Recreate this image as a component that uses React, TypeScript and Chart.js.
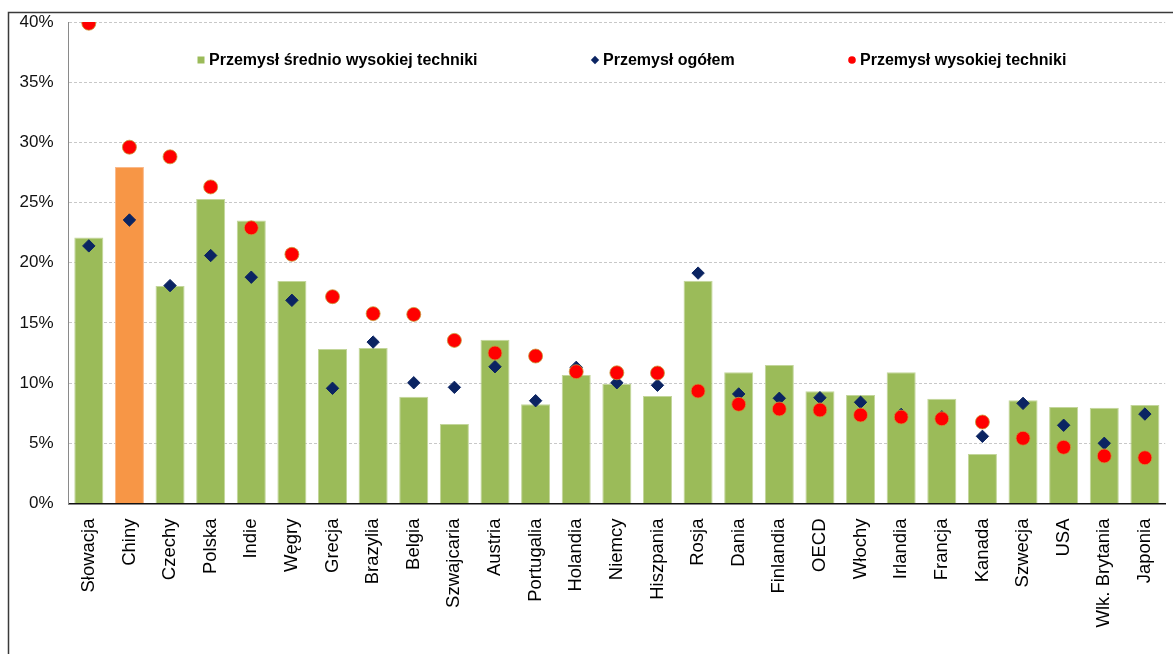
import React, { useEffect, useRef } from "react";
import { Chart, registerables } from "chart.js";

Chart.register(...registerables);

// Kraje / grupy krajów na osi poziomej
const categories = [
  "Słowacja", "Chiny", "Czechy", "Polska", "Indie", "Węgry", "Grecja", "Brazylia",
  "Belgia", "Szwajcaria", "Austria", "Portugalia", "Holandia", "Niemcy", "Hiszpania",
  "Rosja", "Dania", "Finlandia", "OECD", "Włochy", "Irlandia", "Francja", "Kanada",
  "Szwecja", "USA", "Wlk. Brytania", "Japonia",
];

// Przemysł średnio wysokiej techniki (słupki), %
const mediumHighTech = [
  22.1, 27.95, 18.07, 25.3, 23.5, 18.48, 12.83, 12.92, 8.87, 6.6, 13.6, 8.24, 10.67,
  9.95, 8.93, 18.5, 10.9, 11.5, 9.32, 9.01, 10.9, 8.7, 4.11, 8.57, 8.01, 7.96, 8.18,
];

// Przemysł ogółem (romby), %
const manufacturingTotal = [
  21.4, 23.55, 18.1, 20.6, 18.8, 16.88, 9.57, 13.41, 10.03, 9.65, 11.36, 8.54, 11.31,
  10.03, 9.82, 19.14, 9.1, 8.74, 8.79, 8.41, 7.4, 7.2, 5.58, 8.32, 6.5, 5.0, 7.43,
];

// Przemysł wysokiej techniki (kółka), %
const highTech = [
  39.9, 29.6, 28.8, 26.3, 22.9, 20.7, 17.18, 15.77, 15.71, 13.55, 12.5, 12.25, 10.95,
  10.86, 10.84, 9.34, 8.24, 7.85, 7.77, 7.35, 7.18, 7.04, 6.77, 5.42, 4.67, 3.95, 3.8,
];

const yTicks = [0, 5, 10, 15, 20, 25, 30, 35, 40];

const seriesNames = [
  "Przemysł średnio wysokiej techniki",
  "Przemysł ogółem",
  "Przemysł wysokiej techniki",
];

const highlighted = "Chiny";

const FONT = "'Liberation Sans', Arial, sans-serif";

const GREEN = "#9BBB59";
const ORANGE = "#F79646";
const NAVY = "#0B2462";
const RED = "#FF0000";

// Ramka wykresu (górna i lewa krawędź)
const framePlugin = {
  id: "frame",
  beforeDraw(chart: any) {
    const { ctx, width, height } = chart;
    ctx.save();
    ctx.strokeStyle = "#3a3a3a";
    ctx.lineWidth = 1.5;
    ctx.beginPath();
    ctx.moveTo(8.5, height);
    ctx.lineTo(8.5, 12.5);
    ctx.lineTo(width, 12.5);
    ctx.stroke();
    ctx.restore();
  },
};

// Legenda w jednym wierszu wewnątrz obszaru wykresu
const legendMarkerX = [201, 595, 852];
const legendY = 60;
const inlineLegend = {
  id: "inlineLegend",
  afterDraw(chart: any) {
    const { ctx } = chart;
    ctx.save();
    chart.data.datasets.forEach((ds: any, i: number) => {
      const mx = legendMarkerX[i];
      ctx.fillStyle = ds.legendColor;
      ctx.beginPath();
      if (i === 0) {
        ctx.rect(mx - 3.5, legendY - 3.5, 7, 7);
      } else if (i === 1) {
        ctx.moveTo(mx, legendY - 4.2);
        ctx.lineTo(mx + 4.2, legendY);
        ctx.lineTo(mx, legendY + 4.2);
        ctx.lineTo(mx - 4.2, legendY);
        ctx.closePath();
      } else {
        ctx.arc(mx, legendY, 3.8, 0, Math.PI * 2);
      }
      ctx.fill();
      ctx.fillStyle = "#000";
      ctx.font = `bold 16px ${FONT}`;
      ctx.textBaseline = "middle";
      ctx.textAlign = "left";
      ctx.fillText(ds.label, mx + 8, legendY + 0.5);
    });
    ctx.restore();
  },
};

export default function App() {
  const canvasRef = useRef<HTMLCanvasElement | null>(null);

  useEffect(() => {
    if (!canvasRef.current) return;
    const barColors = categories.map((c) => (c === highlighted ? ORANGE : GREEN));
    const barBorders = categories.map((c) => (c === highlighted ? "#FAB98A" : "#C3D69B"));

    const chart = new Chart(canvasRef.current, {
      type: "bar",
      data: {
        labels: categories,
        datasets: [
          {
            type: "bar",
            label: seriesNames[0],
            data: mediumHighTech,
            backgroundColor: barColors,
            borderColor: barBorders,
            borderWidth: 1,
            barPercentage: 0.715,
            categoryPercentage: 1,
            order: 3,
            legendColor: GREEN,
          },
          {
            type: "line",
            label: seriesNames[1],
            data: manufacturingTotal,
            showLine: false,
            pointStyle: "rectRot",
            pointRadius: 6.2,
            pointBackgroundColor: NAVY,
            pointBorderColor: NAVY,
            pointBorderWidth: 1,
            backgroundColor: NAVY,
            borderColor: NAVY,
            order: 2,
            legendColor: NAVY,
          },
          {
            type: "line",
            label: seriesNames[2],
            data: highTech,
            showLine: false,
            pointStyle: "circle",
            pointRadius: 7,
            pointBackgroundColor: RED,
            pointBorderColor: "#C99A3A",
            pointBorderWidth: 0.8,
            backgroundColor: RED,
            borderColor: "#C99A3A",
            order: 1,
            legendColor: RED,
          },
        ],
      } as any,
      options: {
        responsive: false,
        animation: false,
        devicePixelRatio: 1,
        layout: { padding: { left: 0, top: 22, right: 5, bottom: 0 } },
        plugins: {
          tooltip: { enabled: false },
          legend: { display: false },
        },
        scales: {
          x: {
            offset: true,
            grid: { display: false, drawTicks: false },
            border: { display: true, color: "#111", width: 1.5 },
            ticks: {
              autoSkip: false,
              maxRotation: 90,
              minRotation: 90,
              padding: 15,
              color: "#000",
              font: { family: FONT, size: 18.5 },
            },
            afterFit: (scale: any) => {
              scale.height = 150.5;
              scale.paddingLeft = 0;
              scale.paddingRight = 0;
            },
          },
          y: {
            min: 0,
            max: 40,
            afterBuildTicks: (scale: any) => {
              scale.ticks = yTicks.map((v) => ({ value: v }));
            },
            grid: { color: "#C8C8C8", lineWidth: 1, drawTicks: false },
            border: { display: true, color: "#8A8A8A", width: 1, dash: [3, 2] },
            ticks: {
              padding: 15,
              color: "#111",
              font: { family: FONT, size: 17 },
              callback: (v: any) => `${v}%`,
            },
            afterFit: (scale: any) => {
              scale.width = 68.5;
              scale.paddingTop = 0;
              scale.paddingBottom = 0;
            },
          },
        },
      } as any,
      plugins: [framePlugin, inlineLegend],
    });

    return () => chart.destroy();
  }, []);

  return (
    <div style={{ position: "fixed", left: 0, top: 0, width: 1173, height: 654, background: "#fff" }}>
      <canvas ref={canvasRef} width={1173} height={654} />
    </div>
  );
}
